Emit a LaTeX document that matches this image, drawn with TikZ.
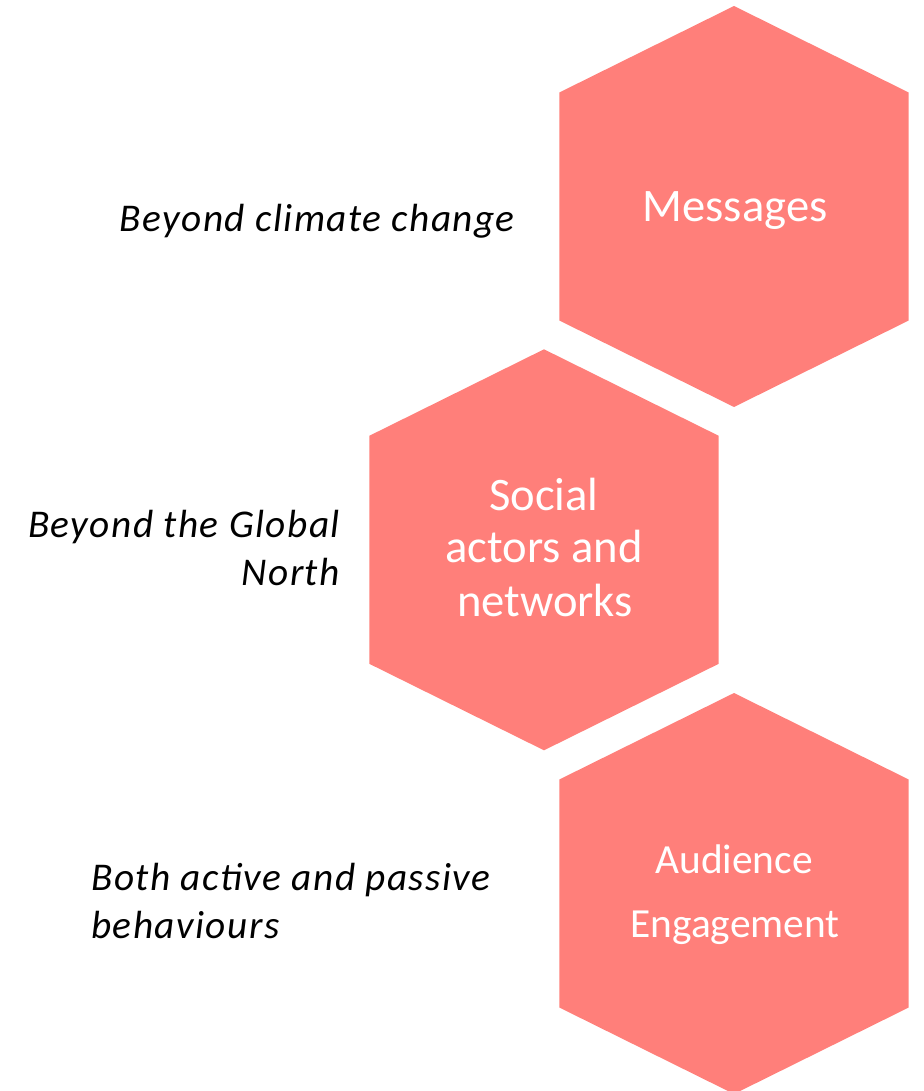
\documentclass[tikz,border=0pt]{standalone}
\usepackage{fontspec}
\setmainfont{Carlito}
\newfontfamily\sidefont[LetterSpace=3.7]{Carlito}
\definecolor{hexcoral}{HTML}{FF7F7A}
\begin{document}
\begin{tikzpicture}[x=1pt,y=-1pt,
  hexfill/.style={fill=hexcoral},
  hexlabel/.style={text=white,inner sep=0pt,font=\fontsize{46.6}{53}\selectfont},
  smalllabel/.style={text=white,inner sep=0pt,font=\fontsize{41.4}{48}\selectfont},
  sidelabel/.style={text=black,inner sep=0pt,font=\sidefont\fontsize{39.3}{48}\selectfont\itshape}]
\useasboundingbox (0,0) rectangle (923,1091);
% three hexagons, pointy side up
\foreach \cx/\cy in {734/206.5, 544/549.8, 734/893.5}{
  \fill[hexfill,shift={(\cx,\cy)}]
    (0,-200.5) -- (174.7,-114) -- (174.7,114) -- (0,200.5)
    -- (-174.7,114) -- (-174.7,-114) -- cycle;
}
% labels inside the hexagons
\node[hexlabel,anchor=base] (msg) at (735,221.7) {Messages};
\node[hexlabel,anchor=base] (soca) at (544,510.7) {Social};
\node[hexlabel,anchor=base] (socb) at (544,562.7) {actors and};
\node[hexlabel,anchor=base] (socc) at (545,616.7) {networks};
\node[smalllabel,anchor=base] (auda) at (734,873.3) {Audience};
\node[smalllabel,anchor=base] (audb) at (735,937.3) {Engagement};
% side notes
\node[sidelabel,anchor=base east] (beyclim) at (515,231.7) {Beyond climate change};
\node[sidelabel,anchor=base east] (beyglob) at (340,537.3) {Beyond the Global};
\node[sidelabel,anchor=base east] (beynorth) at (340,585) {North};
\node[sidelabel,anchor=base west] (botha) at (91,890) {Both active and passive};
\node[sidelabel,anchor=base west] (bothb) at (91,938.3) {behaviours};
\end{tikzpicture}
\end{document}
